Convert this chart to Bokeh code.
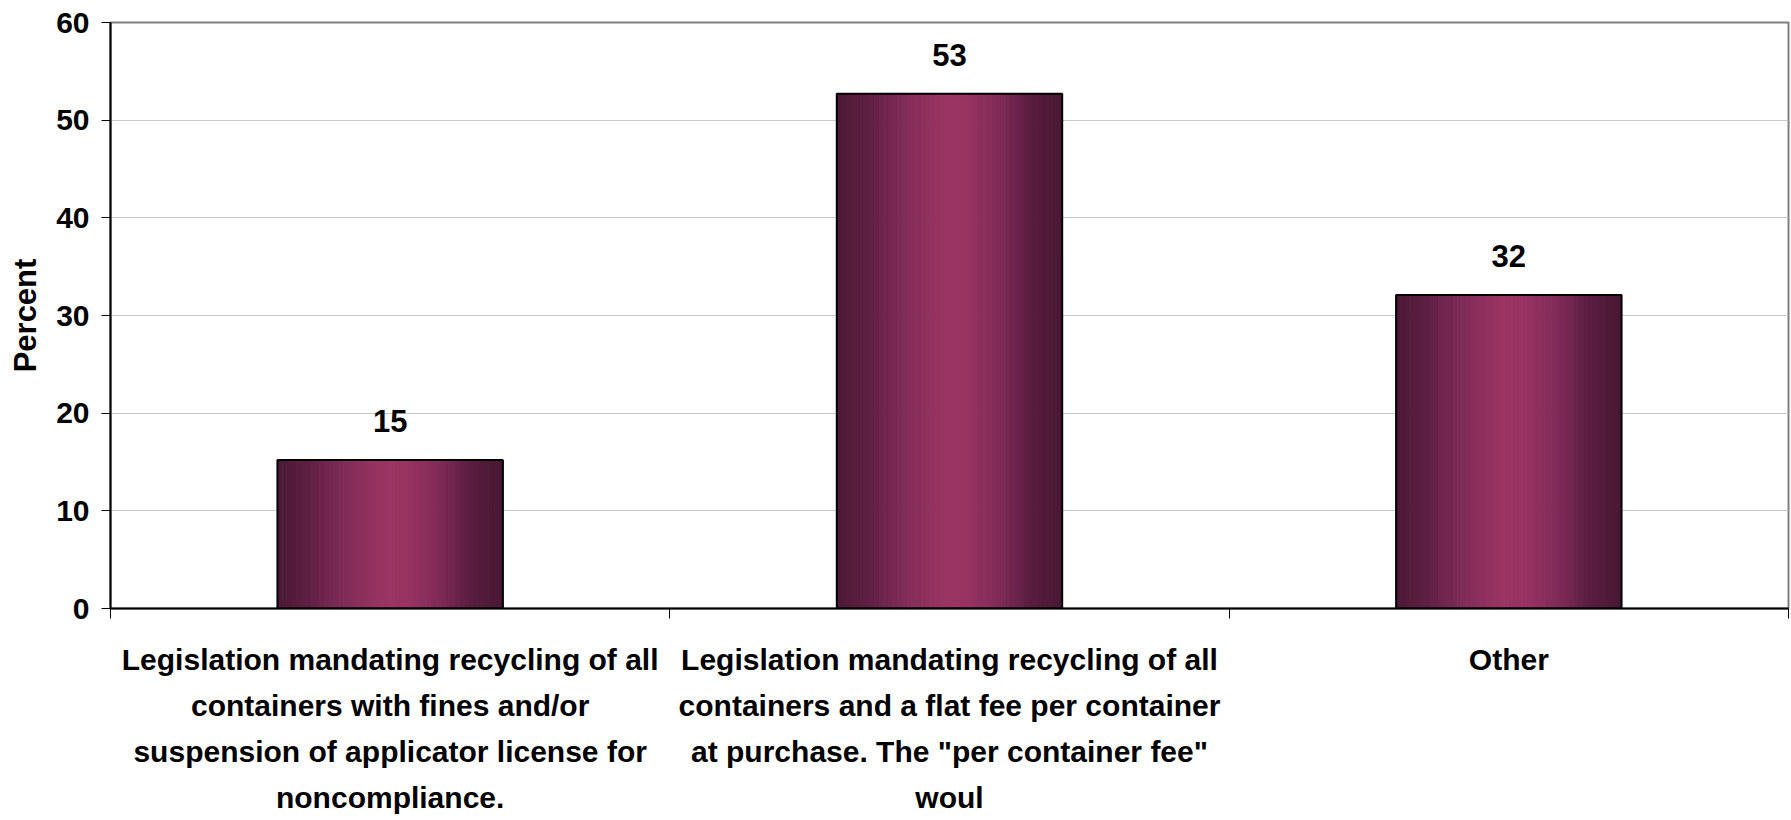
import numpy as np
from bokeh.plotting import figure
from bokeh.models import FixedTicker, Range1d
from bokeh.embed import file_html
from bokeh.resources import INLINE
from bokeh.core.properties import value

# ---------------- data ----------------
categories = [
    "Legislation mandating recycling of all\ncontainers with fines and/or\nsuspension of applicator license for\nnoncompliance.",
    "Legislation mandating recycling of all\ncontainers and a flat fee per container\nat purchase. The \"per container fee\"\nwoul",
    "Other",
]
percent = [15.2, 52.7, 32.1]
value_labels = ["15", "53", "32"]
y_ticks = [0, 10, 20, 30, 40, 50, 60]
y_label = "Percent"

# ---------------- style ----------------
FONT = "Liberation Sans"
BAR_W = 0.403
N_STRIPS = 48
# horizontal gradient profile (position 0..1 -> colour)
grad_pos = [0.0, 0.12, 0.30, 0.48, 0.58, 0.72, 0.86, 1.0]
grad_col = [(0x4a, 0x19, 0x35), (0x5c, 0x1e, 0x41), (0x80, 0x2c, 0x58),
            (0x9b, 0x34, 0x63), (0x98, 0x33, 0x62), (0x80, 0x2b, 0x57),
            (0x5a, 0x1d, 0x40), (0x48, 0x18, 0x33)]


def grad_color(t):
    r = np.interp(t, grad_pos, [c[0] for c in grad_col])
    g = np.interp(t, grad_pos, [c[1] for c in grad_col])
    b = np.interp(t, grad_pos, [c[2] for c in grad_col])
    return "#%02x%02x%02x" % (int(round(r)), int(round(g)), int(round(b)))


n = len(categories)
p = figure(width=1791, height=820,
           x_range=Range1d(0, n), y_range=Range1d(y_ticks[0], y_ticks[-1]),
           output_backend="svg", toolbar_location=None,
           min_border_left=110, min_border_right=3,
           min_border_top=22, min_border_bottom=212)

p.background_fill_color = "white"
p.border_fill_color = "white"
p.outline_line_color = "#808080"
p.outline_line_width = 2

# grid
p.xgrid.grid_line_color = None
p.ygrid.grid_line_color = "#c8c8c8"
p.ygrid.grid_line_width = 1
p.ygrid.ticker = FixedTicker(ticks=y_ticks)

# bars (gradient by strips)
centers = np.arange(n) + 0.5
t_mid = (np.arange(N_STRIPS) + 0.5) / N_STRIPS
strip_colors = [grad_color(t) for t in t_mid]
for c, v in zip(centers, percent):
    edges = np.linspace(c - BAR_W / 2, c + BAR_W / 2, N_STRIPS + 1)
    p.quad(left=edges[:-1], right=edges[1:], bottom=0, top=v,
           fill_color=strip_colors, line_color=strip_colors, line_width=1)

p.quad(left=centers - BAR_W / 2, right=centers + BAR_W / 2, bottom=0, top=percent,
       fill_color=None, line_color="black", line_width=2)

# value labels
p.text(x=centers, y=percent, text=value_labels, y_offset=-39,
       text_align="center", text_baseline="alphabetic",
       text_font=value(FONT), text_font_style="bold", text_font_size="31px",
       text_color="black")

# y axis
p.yaxis.ticker = FixedTicker(ticks=y_ticks)
p.yaxis.axis_line_color = "black"
p.yaxis.axis_line_width = 2
p.yaxis.major_tick_line_color = "black"
p.yaxis.major_tick_line_width = 1
p.yaxis.major_tick_out = 9
p.yaxis.major_tick_in = 0
p.yaxis.minor_tick_line_color = None
p.yaxis.major_label_text_font = FONT
p.yaxis.major_label_text_font_style = "bold"
p.yaxis.major_label_text_font_size = "30px"
p.yaxis.major_label_text_color = "black"
p.yaxis.major_label_standoff = 12
p.yaxis.axis_label = y_label
p.yaxis.axis_label_text_font = FONT
p.yaxis.axis_label_text_font_style = "bold"
p.yaxis.axis_label_text_font_size = "31px"
p.yaxis.axis_label_text_color = "black"
p.yaxis.axis_label_standoff = 10

# x axis
p.xaxis.ticker = FixedTicker(ticks=list(centers), minor_ticks=list(range(n + 1)))
p.xaxis.major_label_overrides = {float(c): lab for c, lab in zip(centers, categories)}
p.xaxis.axis_line_color = "black"
p.xaxis.axis_line_width = 2
p.xaxis.major_tick_line_color = None
p.xaxis.major_tick_out = 0
p.xaxis.major_tick_in = 0
p.xaxis.minor_tick_line_color = "black"
p.xaxis.minor_tick_out = 10
p.xaxis.minor_tick_in = 0
p.xaxis.major_label_text_font = FONT
p.xaxis.major_label_text_font_style = "bold"
p.xaxis.major_label_text_font_size = "30px"
p.xaxis.major_label_text_color = "black"
p.xaxis.major_label_text_line_height = 1.4
p.xaxis.major_label_standoff = 24
p.xaxis.major_label_orientation = "horizontal"

open("out.html", "w").write(file_html(p, INLINE))
